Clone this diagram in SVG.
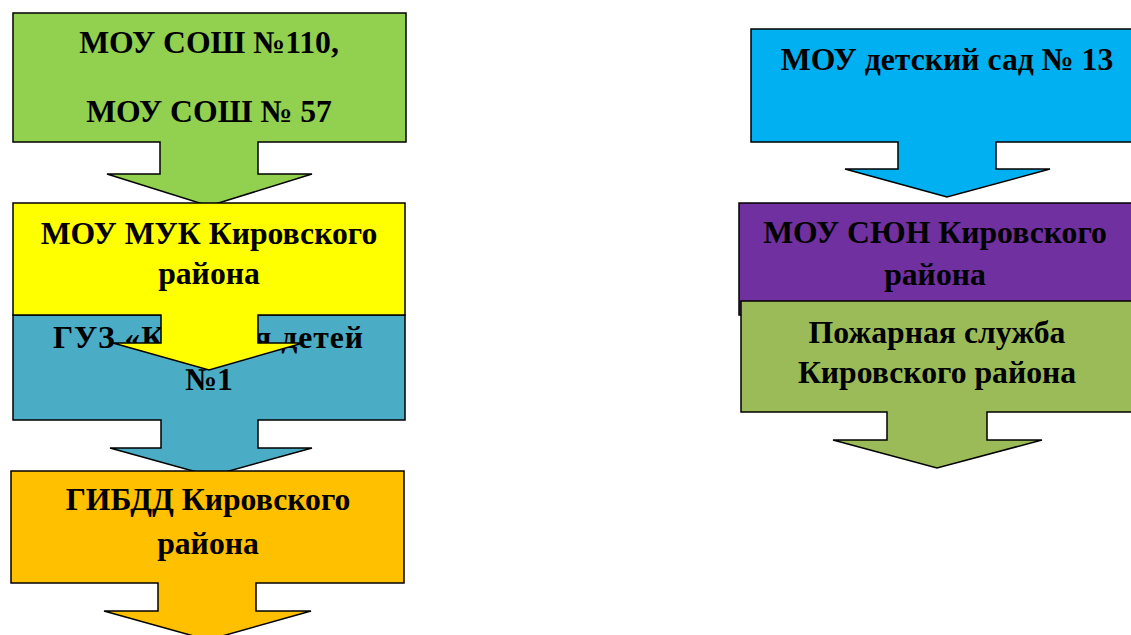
<svg xmlns="http://www.w3.org/2000/svg" width="1131" height="635" viewBox="0 0 1131 635">
<style>
.s{stroke:#000;stroke-width:1.5;stroke-linejoin:miter}
.t{font-family:"Liberation Serif","Times New Roman",serif;font-weight:bold;font-size:31.7px;fill:#000;text-anchor:middle}
</style>
<rect width="1131" height="635" fill="#fff"/>
<g id="connectors"></g>
<g id="n1">
<path class="s" fill="#92D050" d="M13,13 H406 V142 H258 V174 H312 L209,206 L107,174 H160 V142 H13 Z"/>
<text class="t" x="209" y="53">МОУ СОШ №110,</text>
<text class="t" x="209" y="122">МОУ СОШ № 57</text>
</g>
<g id="n3">
<path class="s" fill="#4BACC6" d="M13,315 H405 V420 H258 V448 H312 L211,476 L110,448 H161 V420 H13 Z"/>
<text class="t" x="53" y="348" style="text-anchor:start" textLength="310" lengthAdjust="spacing">ГУЗ «КДБ для детей</text>
<text class="t" x="209" y="390">№1</text>
</g>
<g id="n2">
<path class="s" fill="#FFFF00" d="M13,203 H405 V315 H258 V343 H303 L209,370 L113,343 H161 V315 H13 Z"/>
<text class="t" x="209" y="244">МОУ МУК Кировского</text>
<text class="t" x="209" y="284">района</text>
</g>
<g id="n4">
<path class="s" fill="#FFC000" d="M11,471 H404 V583 H256 V611 H311 L208,640 L104,611 H158 V583 H11 Z"/>
<text class="t" x="208" y="510">ГИБДД Кировского</text>
<text class="t" x="208" y="554">района</text>
</g>
<g id="n5">
<path class="s" fill="#00B0F0" d="M751,29 H1143 V142 H996 V169 H1050 L947,197 L845,169 H898 V142 H751 Z"/>
<text class="t" x="947" y="70">МОУ детский сад № 13</text>
</g>
<g id="n6">
<rect class="s" fill="#7030A0" x="739" y="203" width="401" height="112"/>
<text class="t" x="935" y="243">МОУ СЮН Кировского</text>
<text class="t" x="935" y="285">района</text>
</g>
<g id="n7">
<path class="s" fill="#9BBB59" d="M741,301 H1140 V412 H987 V440 H1042 L937,468 L833,440 H887 V412 H741 Z"/>
<text class="t" x="937" y="343">Пожарная служба</text>
<text class="t" x="937" y="383">Кировского района</text>
</g>
</svg>
